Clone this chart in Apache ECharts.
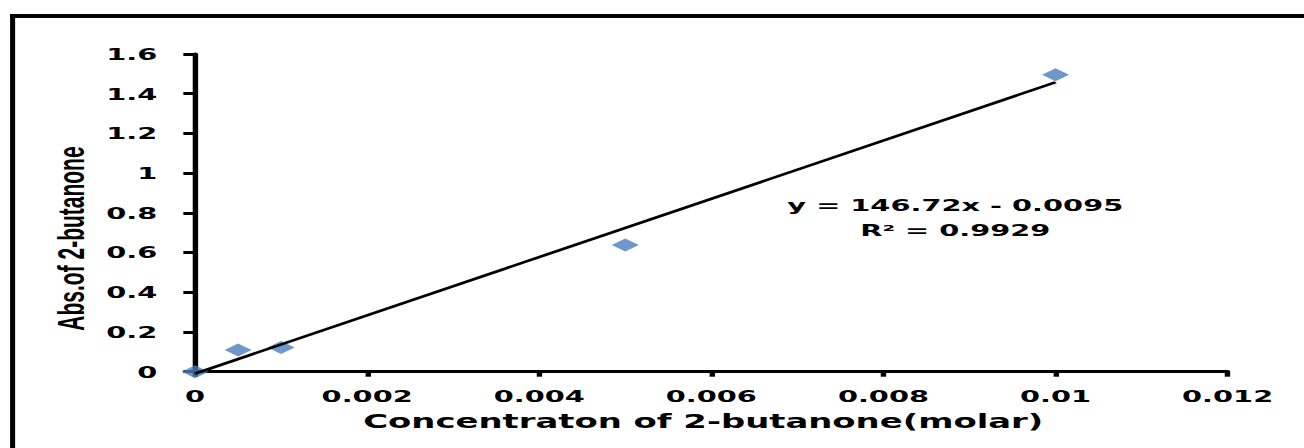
<!DOCTYPE html>
<html>
<head>
<meta charset="utf-8">
<script src="https://cdn.jsdelivr.net/npm/echarts@6/dist/echarts.min.js"></script>
<style>
  html, body { margin: 0; padding: 0; background: #fff; }
  #wrap { width: 1304px; height: 448px; overflow: hidden; position: relative; background: #fff; }
  #chart { width: 724px; height: 448px; transform: scaleX(1.8011); transform-origin: 0 0; }
</style>
</head>
<body>
<div id="wrap"><div id="chart"></div></div>
<script>
// ---- data ----
const concentration = [0, 0.0005, 0.001, 0.005, 0.01];
const absorbance    = [0, 0.109, 0.122, 0.638, 1.495];
const trendX = [0, 0.01];
const trendY = [-0.0095, 1.4577];
const xTickLabels = ['0', '0.002', '0.004', '0.006', '0.008', '0.01', '0.012'];
const yTickLabels = ['0', '0.2', '0.4', '0.6', '0.8', '1', '1.2', '1.4', '1.6'];
const xTitle = 'Concentraton of 2-butanone(molar)';
const yTitle = 'Abs.of 2-butanone';
const equationText = 'y = 146.72x - 0.0095\nR\u00B2 = 0.9929';

const chart = echarts.init(document.getElementById('chart'), null, { renderer: 'svg' });
const tickFont = { fontFamily: 'DejaVu Sans', fontWeight: 'bold', fontSize: 16, color: '#000' };

chart.setOption({
  animation: false,
  backgroundColor: '#fff',
  grid: { left: 108.3, right: 42.4, top: 54, bottom: 76.3, containLabel: false },
  xAxis: {
    type: 'value', min: 0, max: 0.012, interval: 0.002,
    name: xTitle, nameLocation: 'middle', nameGap: 40,
    nameTextStyle: { fontFamily: 'DejaVu Sans', fontWeight: 'bold', fontSize: 18.8, color: '#000', padding: [0, 9, 0, 0] },
    axisLine: { show: true, onZero: false, lineStyle: { color: '#000', width: 3 } },
    axisTick: { show: true, inside: false, length: 5, lineStyle: { color: '#000', width: 3 } },
    axisLabel: Object.assign({ margin: 16, formatter: (v, i) => xTickLabels[i] }, tickFont),
    splitLine: { show: false }
  },
  yAxis: {
    type: 'value', min: 0, max: 1.6, interval: 0.2,
    axisLine: { show: true, onZero: false, lineStyle: { color: '#000', width: 3 } },
    axisTick: { show: true, inside: false, length: 6.5, lineStyle: { color: '#000', width: 3 } },
    axisLabel: Object.assign({ margin: 21, formatter: (v, i) => yTickLabels[i] }, tickFont),
    splitLine: { show: false }
  },
  graphic: [
    { type: 'rect', shape: { x: 5.6, y: 14, width: 2.8, height: 440 }, style: { fill: '#000' }, z: 100 },
    { type: 'rect', shape: { x: 5.6, y: 14, width: 730, height: 4 }, style: { fill: '#000' }, z: 100 },
    { type: 'text', x: 38.9, y: 238.5, rotation: Math.PI / 2,
      style: { text: yTitle, font: 'bold 21px "Liberation Sans", Arial, sans-serif', fill: '#000',
               textAlign: 'center', textVerticalAlign: 'middle', align: 'center', verticalAlign: 'middle' } },
    { type: 'text', x: 530.4, y: 218,
      style: { text: equationText, font: 'bold 16px "DejaVu Sans", Verdana, sans-serif', fill: '#000', lineHeight: 25,
               textAlign: 'center', textVerticalAlign: 'middle', align: 'center', verticalAlign: 'middle' } }
  ],
  series: [
    {
      name: 'Trendline', type: 'line',
      data: trendX.map((x, i) => [x, trendY[i]]),
      symbol: 'none', lineStyle: { color: '#000', width: 2.5 }, clip: false, z: 3
    },
    {
      name: 'Abs', type: 'scatter',
      data: concentration.map((x, i) => [x, absorbance[i]]),
      symbol: 'diamond', symbolSize: [15, 13],
      itemStyle: { color: '#4a7ebb' }, clip: false, z: 2
    }
  ]
});
</script>
</body>
</html>
